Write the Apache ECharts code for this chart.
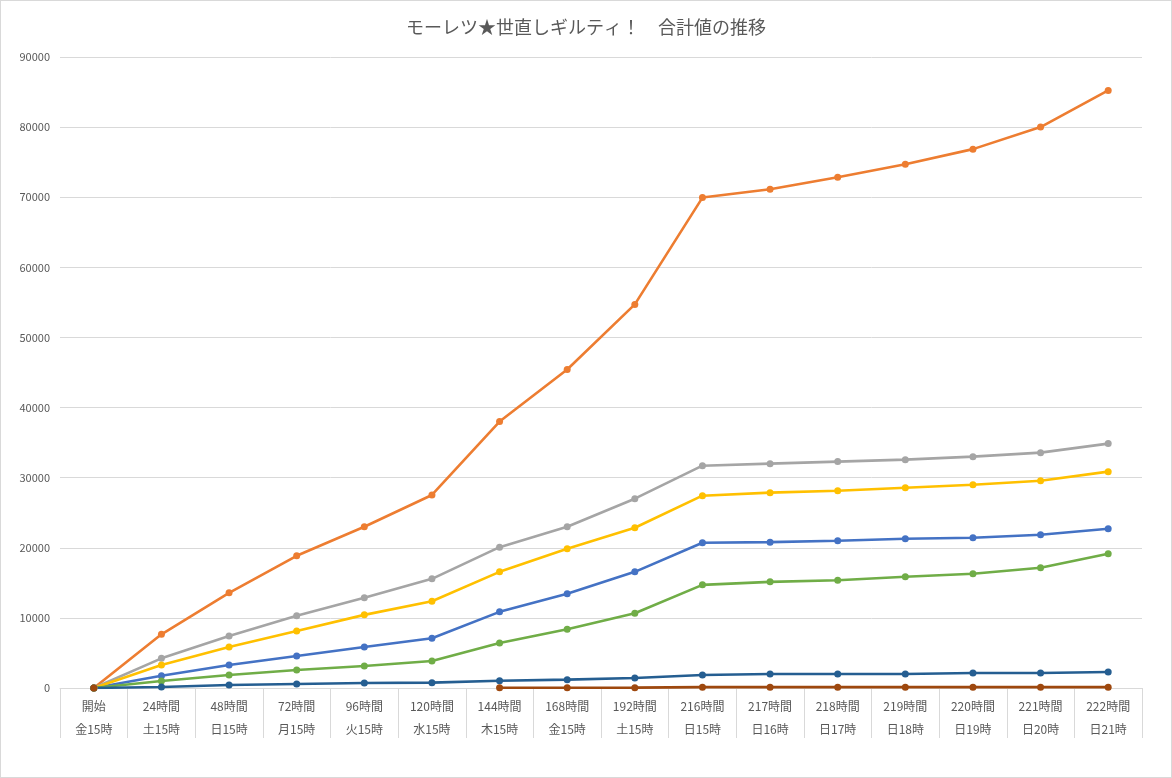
<!DOCTYPE html>
<html>
<head>
<meta charset="utf-8">
<script src="https://cdn.jsdelivr.net/npm/echarts@6/dist/echarts.min.js"></script>
<style>
html,body{margin:0;padding:0;background:#fff;}
#c{width:1170px;height:776px;border:1px solid #d9d9d9;}
</style>
</head>
<body>
<div id="c"></div>
<script>
const categories = ['開始\n金15時','24時間\n土15時','48時間\n日15時','72時間\n月15時','96時間\n火15時','120時間\n水15時','144時間\n木15時','168時間\n金15時','192時間\n土15時','216時間\n日15時','217時間\n日16時','218時間\n日17時','219時間\n日18時','220時間\n日19時','221時間\n日20時','222時間\n日21時'];
const seriesBlue     = [0,1760,3280,4570,5860,7090,10860,13430,16570,20710,20800,21000,21290,21430,21860,22710];
const seriesOrange   = [0,7660,13570,18860,23000,27530,38000,45430,54710,69950,71140,72860,74710,76860,80000,85230];
const seriesGray     = [0,4230,7430,10290,12860,15570,20090,23000,27000,31710,32000,32290,32570,33000,33570,34860];
const seriesYellow   = [0,3280,5860,8140,10430,12380,16570,19860,22860,27430,27860,28140,28570,29000,29570,30860];
const seriesGreen    = [0,1000,1860,2570,3140,3860,6430,8380,10660,14710,15140,15370,15860,16290,17140,19140];
const seriesDarkBlue = [0,140,430,570,710,760,1040,1190,1430,1860,2000,2000,2000,2140,2140,2290];
const seriesBrown    = [0,null,null,null,null,null,30,30,50,120,120,120,120,120,120,120];
const titleText = 'モーレツ★世直しギルティ！　合計値の推移';

const mk = (data, color) => ({
  type:'line', data, symbol:'circle', symbolSize:7, connectNulls:false,
  lineStyle:{width:2.6, color}, itemStyle:{color}, emphasis:{disabled:true}
});
const chart = echarts.init(document.getElementById('c'));
chart.setOption({
  animation:false,
  title:{text:titleText,left:'center',top:12,textStyle:{fontFamily:'Noto Sans CJK JP',fontSize:18,fontWeight:'normal',color:'#595959'}},
  grid:{left:59,right:29,top:56,bottom:89,containLabel:false},
  xAxis:{type:'category',data:categories,boundaryGap:true,
    axisLine:{lineStyle:{color:'#d9d9d9',width:1}},
    axisTick:{show:true,length:50,lineStyle:{color:'#d9d9d9'},alignWithLabel:false},
    axisLabel:{interval:0,color:'#595959',fontFamily:'Noto Sans CJK JP',fontSize:12,lineHeight:23,margin:7}},
  yAxis:{type:'value',min:0,max:90000,interval:10000,
    axisLine:{show:false},axisTick:{show:false},
    splitLine:{lineStyle:{color:'#d9d9d9',width:1}},
    axisLabel:{color:'#595959',fontFamily:'Noto Sans CJK JP',fontSize:11,margin:10,formatter:v=>String(v)}},
  series:[
    mk(seriesBlue,'#4472C4'),
    mk(seriesOrange,'#ED7D31'),
    mk(seriesGray,'#A5A5A5'),
    mk(seriesYellow,'#FFC000'),
    mk(seriesGreen,'#70AD47'),
    mk(seriesDarkBlue,'#255E91'),
    mk(seriesBrown,'#9E480E')
  ]
});
</script>
</body>
</html>
